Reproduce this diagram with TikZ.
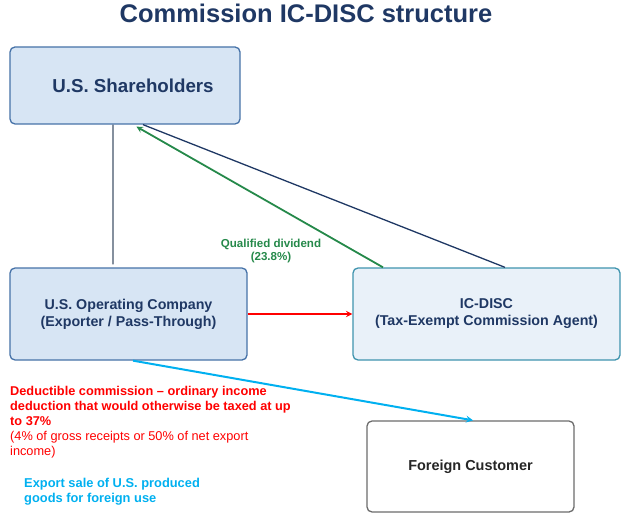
\documentclass[tikz,border=0pt]{standalone}
\usepackage{fontspec}
\setmainfont{Liberation Sans}
\definecolor{navy}{HTML}{1F3864}
\definecolor{slate}{HTML}{44546A}
\definecolor{boxblue}{HTML}{D7E5F4}
\definecolor{boxline}{HTML}{4672A8}
\definecolor{discfill}{HTML}{E9F1F9}
\definecolor{discline}{HTML}{3F94AE}
\definecolor{divgreen}{HTML}{25894A}
\definecolor{salecyan}{HTML}{00B0F0}
\tikzset{
  entity/.style={draw=boxline,fill=boxblue,line width=1.3bp,rounded corners=5bp,
    align=center,font=\bfseries\fontsize{14.3}{17}\selectfont,text=navy,inner sep=0pt},
  link/.style={line width=1.3bp}
}
\begin{document}
\begin{tikzpicture}[x=1bp,y=-1bp,>=stealth]
  \useasboundingbox (0,0) rectangle (624,517);
  \node[font=\bfseries\fontsize{25.6}{30}\selectfont,text=navy] (title) at (306,13) {Commission IC-DISC structure};
  % boxes
  \node[entity,minimum width=230bp,minimum height=77bp,font=\bfseries\fontsize{18.8}{22}\selectfont] (sh) at (125,85.5) {\hspace*{16bp}U.S. Shareholders};
  \node[entity,minimum width=237bp,minimum height=92bp] (op) at (128.5,314) {U.S. Operating Company\\(Exporter / Pass-Through)};
  \node[entity,draw=discline,fill=discfill,minimum width=267bp,minimum height=92bp] (disc) at (486.5,314) {IC-DISC\\(Tax-Exempt Commission Agent)};
  \node[entity,draw=gray!85!black,fill=white,text=black!85,minimum width=207bp,minimum height=91bp,font=\bfseries\fontsize{14.5}{17}\selectfont] (fc) at (470.5,466.5) {Foreign Customer};
  % connectors
  \draw[link,slate,shorten >=3bp] ([xshift=-12bp]sh.south) -- ([xshift=-15.5bp]op.north);
  \draw[link,navy] ([xshift=18bp]sh.south) -- ([xshift=18.5bp]disc.north);
  \draw[link,divgreen,->,line width=1.8bp,shorten >=4bp] ([xshift=-103.5bp]disc.north) -- ([xshift=8bp]sh.south);
  \draw[link,red,->,line width=1.8bp] (op.east) -- (disc.west);
  \draw[link,salecyan,->,line width=2bp] ([xshift=4.5bp]op.south) -- ([xshift=2.5bp]fc.north);
  % labels
  \node[align=center,text=divgreen,font=\bfseries\fontsize{11.6}{13.5}\selectfont] (qd) at (271,251) {Qualified dividend\\(23.8\%)};
  \node[anchor=north west,align=left,text=red,font=\fontsize{12.8}{15}\selectfont,inner sep=0pt] (ded) at (10,386)
    {\textbf{Deductible commission -- ordinary income}\\\textbf{deduction that would otherwise be taxed at up}\\\textbf{to 37\%}\\(4\% of gross receipts or 50\% of net export\\income)};
  \node[anchor=north west,align=left,text=salecyan,font=\bfseries\fontsize{12.9}{15}\selectfont,inner sep=0pt] (sale) at (24,478)
    {Export sale of U.S. produced\\goods for foreign use};
\end{tikzpicture}
\end{document}
